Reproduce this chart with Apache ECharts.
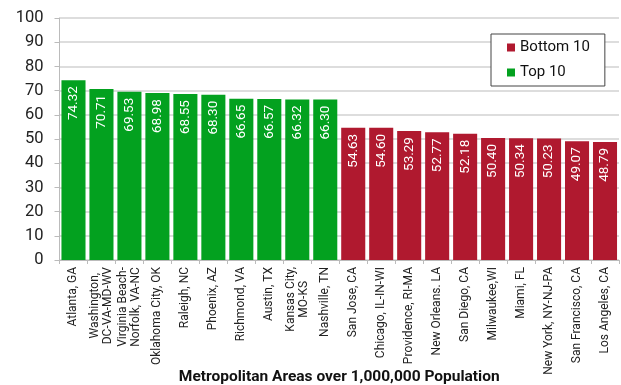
<!DOCTYPE html>
<html>
<head>
<meta charset="utf-8">
<script src="https://cdn.jsdelivr.net/npm/echarts@6/dist/echarts.min.js"></script>
<style>
  html, body { margin: 0; padding: 0; background: #fff; }
  #chart { width: 621px; height: 385px; }
</style>
</head>
<body>
<div id="chart"></div>
<script>
// Metro areas, best ten first, then the lowest ten
const topAreas = [
  "Atlanta, GA", "Washington,\nDC-VA-MD-WV", "Virginia Beach-\nNorfolk, VA-NC",
  "Oklahoma City, OK", "Raleigh, NC", "Phoenix, AZ", "Richmond, VA",
  "Austin, TX", "Kansas City,\nMO-KS", "Nashville, TN"
];
const topScores = [74.32, 70.71, 69.53, 68.98, 68.55, 68.30, 66.65, 66.57, 66.32, 66.30];

const bottomAreas = [
  "San Jose, CA", "Chicago, IL-IN-WI", "Providence, RI-MA", "New Orleans. LA",
  "San Diego, CA", "Milwaukee,WI", "Miami, FL", "New York, NY-NJ-PA",
  "San Francisco, CA", "Los Angeles, CA"
];
const bottomScores = [54.63, 54.60, 53.29, 52.77, 52.18, 50.40, 50.34, 50.23, 49.07, 48.79];

const yTicks = [0, 10, 20, 30, 40, 50, 60, 70, 80, 90, 100];

const categories = topAreas.concat(bottomAreas);
const blanks = n => new Array(n).fill('-');
const topSeries = topScores.concat(blanks(bottomScores.length));
const bottomSeries = blanks(topScores.length).concat(bottomScores);

const FONT = 'Roboto, "Noto Sans", sans-serif';

const valueLabel = {
  show: true,
  position: 'insideTop',
  rotate: 90,
  align: 'right',
  verticalAlign: 'middle',
  distance: 6,
  color: '#fff',
  fontSize: 13.5,
  fontFamily: FONT,
  formatter: p => Number(p.value).toFixed(2)
};

const chart = echarts.init(document.getElementById('chart'), null, { renderer: 'canvas' });
chart.setOption({
  animation: false,
  backgroundColor: '#fff',
  grid: { left: 59.5, right: 2, top: 18, bottom: 125, containLabel: false, outerBoundsMode: 'none' },
  legend: {
    data: ['Bottom 10', 'Top 10'],
    orient: 'vertical',
    left: 491,
    top: 34,
    itemWidth: 8,
    itemHeight: 8,
    itemGap: 10,
    padding: [6, 15, 6, 16],
    borderColor: '#444',
    borderWidth: 1,
    backgroundColor: '#fff',
    icon: 'rect',
    textStyle: { fontSize: 15, color: '#111', fontFamily: FONT }
  },
  xAxis: {
    type: 'category',
    data: categories,
    name: 'Metropolitan Areas over 1,000,000 Population',
    nameLocation: 'middle',
    nameGap: 109,
    nameMoveOverlap: false,
    nameTextStyle: { fontSize: 15.5, fontWeight: 'bold', color: '#111', fontFamily: FONT },
    axisLine: { show: true, lineStyle: { color: '#bbb', width: 1 } },
    axisTick: { show: true, length: 4, lineStyle: { color: '#bbb' } },
    axisLabel: {
      interval: 0,
      rotate: 90,
      margin: 7,
      fontSize: 12,
      color: '#222',
      fontFamily: FONT,
      lineHeight: 12.5,
      formatter: v => v.split('\n').map(s => '{c|' + s + '}').join('\n'),
      rich: { c: { align: 'center', fontSize: 12, color: '#222', fontFamily: FONT, lineHeight: 12.5 } }
    }
  },
  yAxis: {
    type: 'value',
    min: yTicks[0],
    max: yTicks[yTicks.length - 1],
    interval: 10,
    axisLine: { show: true, lineStyle: { color: '#bbb', width: 1 } },
    axisTick: { show: true, length: 5, lineStyle: { color: '#bbb' } },
    axisLabel: { margin: 16, fontSize: 16.5, color: '#222', fontFamily: FONT },
    splitLine: { show: true, lineStyle: { color: '#d2d2d2', width: 1.5 } }
  },
  series: [
    {
      name: 'Bottom 10',
      type: 'bar',
      stack: 'metro',
      data: bottomSeries,
      barCategoryGap: '14%',
      itemStyle: { color: '#B0192F' },
      label: valueLabel
    },
    {
      name: 'Top 10',
      type: 'bar',
      stack: 'metro',
      data: topSeries,
      barCategoryGap: '14%',
      itemStyle: { color: '#03A11F' },
      label: valueLabel
    }
  ]
});
</script>
</body>
</html>
